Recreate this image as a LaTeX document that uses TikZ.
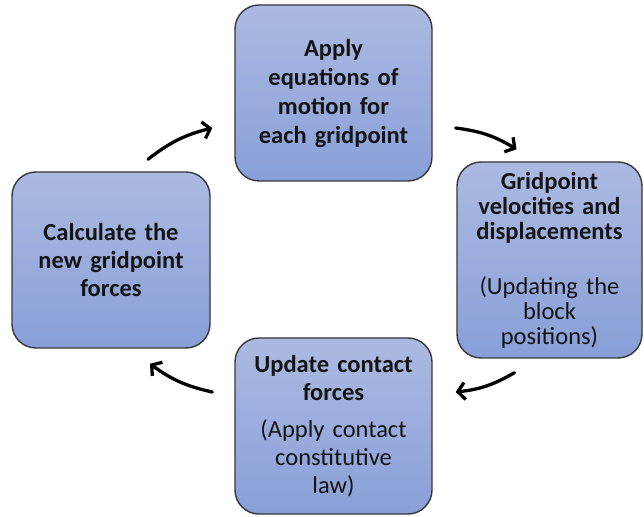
\documentclass[tikz,border=0pt]{standalone}
\usepackage{fontspec}
\setmainfont{Carlito}
\usetikzlibrary{arrows.meta}
\definecolor{boxtop}{RGB}{172,186,226}
\definecolor{boxbot}{RGB}{136,159,216}
\definecolor{boxline}{RGB}{55,55,60}
\tikzset{
  ->/.style={draw=black,line width=3.3pt,line cap=round,-{Straight Barb[length=7pt,width=17pt]}},
  box/.style={draw=boxline,line width=1.4pt,rounded corners=24pt,top color=boxtop,bottom color=boxbot,
    align=center,inner sep=0pt,font=\fontsize{24.5}{29}\selectfont}
}
\tikzstyle{every node}=[text=black!92]

\begin{document}
\begin{tikzpicture}[x=1pt,y=1pt]
    \useasboundingbox (0,0) rectangle (644,516);
    \node[box,minimum width=197pt,minimum height=176pt,text width=192pt] (A) at (333.5,423)
        {\bfseries Apply\\equations of\\motion for\\each gridpoint};
    \node[box,minimum width=185pt,minimum height=196pt,text width=182pt,font=\fontsize{24.5}{25}\selectfont] (B) at (549.5,256)
        {\bfseries Gridpoint\\velocities and\\displacements\\[30pt]\mdseries(Updating the\\block\\positions)};
    \node[box,minimum width=197pt,minimum height=176pt,text width=192pt,font=\fontsize{24.5}{28}\selectfont] (C) at (333.5,90)
        {\bfseries Update contact\\forces\\[9pt]\mdseries(Apply contact\\constitutive\\law)};
    \node[box,minimum width=198pt,minimum height=176pt,text width=192pt,font=\fontsize{24.5}{28}\selectfont] (D) at (111,256)
        {\bfseries Calculate the\\new gridpoint\\forces};
    \draw[->] ([shift={(37,12)}]D.north) to[bend left=12] ([shift={(-22,-35)}]A.west);
    \draw[->] ([shift={(23,-35)}]A.east) to[bend left=12] ([shift={(-33,12)}]B.north);
    \draw[->] ([shift={(-35,-14)}]B.south) to[bend left=12] ([shift={(23,34)}]C.east);
    \draw[->] ([shift={(-22,34)}]C.west) to[bend left=12] ([shift={(39,-15)}]D.south);
\end{tikzpicture}
\end{document}
